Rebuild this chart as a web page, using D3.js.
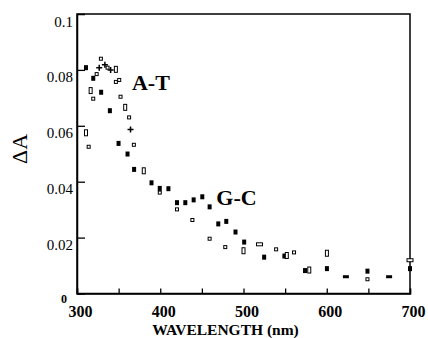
<!DOCTYPE html>
<html>
<head>
<meta charset="utf-8">
<script src="https://cdn.jsdelivr.net/npm/d3@7"></script>
<style>
  body { margin: 0; background: #fff; }
  svg text { font-family: "Liberation Serif", "Times New Roman", Times, "DejaVu Serif", serif !important; }
</style>
</head>
<body>
<div id="chart"></div>
<script>
// wavelength (nm), delta A
const filled = [[310.8, 0.0808], [319.5, 0.077], [329, 0.072], [339.5, 0.0654], [349.9, 0.0537],
  [360.7, 0.0499], [368.6, 0.0444], [389.5, 0.0396], [399.4, 0.0376], [409.8, 0.0375],
  [420.1, 0.0325], [430.1, 0.0325], [440.1, 0.0335], [450.5, 0.0346], [459.3, 0.031],
  [469.7, 0.0249], [479.3, 0.0258], [490.4, 0.022], [500.8, 0.0184], [524.8, 0.013],
  [549.1, 0.0134], [573.9, 0.0082], [600.2, 0.0089], [648.9, 0.008], [700, 0.0089]];
const filledWide = [[623, 0.006], [674.9, 0.006]];
const openSmall = [[328.7, 0.084], [336.7, 0.0808], [323.6, 0.0785], [350.7, 0.0764], [346.7, 0.0757],
  [319.5, 0.0697], [352.3, 0.0704], [362.6, 0.063], [314, 0.0525], [368.3, 0.0532],
  [399.4, 0.0361], [420.1, 0.0301], [438.6, 0.0263], [459.3, 0.0196], [478.1, 0.0166],
  [539.2, 0.0158], [560.7, 0.0147], [648.9, 0.0051]];
const openTall = [[346.7, 0.0802], [316.4, 0.0726], [357.9, 0.0666], [310.8, 0.0575], [380.2, 0.0439],
  [500, 0.0153], [552, 0.0136], [579, 0.0084], [600.2, 0.0144]];
const openWide = [[519.2, 0.0176], [700, 0.0119]];
const plus = [[326.7, 0.0808], [333.5, 0.0818], [340.4, 0.080], [364.3, 0.0587]];

const xTicks = [300, 350, 400, 450, 500, 550, 600, 650, 700];
const yTicks = [0, 0.02, 0.04, 0.06, 0.08, 0.1];
const labels = [{ text: "A-T", wl: 366, dA: 0.0728 }, { text: "G-C", wl: 467.3, dA: 0.0317 }];

const serif = "'Liberation Serif', 'Times New Roman', serif";
const W = 428, H = 338;
const margin = { top: 14, right: 18, bottom: 44.5, left: 77 };
const width = W - margin.left - margin.right;
const height = H - margin.top - margin.bottom;

const svg = d3.select("#chart").append("svg")
  .attr("width", W).attr("height", H)
  .attr("font-family", serif);
const g = svg.append("g").attr("transform", `translate(${margin.left},${margin.top})`);

const x = d3.scaleLinear().domain([300, 700]).range([0, width]);
const y = d3.scaleLinear().domain([0, 0.1]).range([height, 0]);

// frame
g.append("rect")
  .attr("width", width).attr("height", height)
  .attr("fill", "none").attr("stroke", "#000").attr("stroke-width", 1.5);

// x axis
const xAxis = g.append("g")
  .attr("transform", `translate(0,${height})`)
  .call(d3.axisBottom(x).tickValues(xTicks).tickSize(-5).tickPadding(12)
    .tickFormat(d => d % 100 === 0 ? d : ""))
  .attr("font-family", serif);
xAxis.select(".domain").attr("stroke-width", 1.5);
xAxis.selectAll(".tick line").attr("stroke-width", 1.3);
xAxis.selectAll("text")
  .attr("dx", 3)
  .attr("font-size", 16).attr("font-weight", "bold").attr("fill", "#000");

// y axis
const yAxis = g.append("g")
  .call(d3.axisLeft(y).tickValues(yTicks).tickSize(-8).tickPadding(4)
    .tickFormat(d => d === 0 ? "0" : d3.format("~g")(d)))
  .attr("font-family", serif);
yAxis.select(".domain").attr("stroke-width", 1.5);
yAxis.selectAll(".tick line").attr("stroke-width", 1.3)
  .filter(d => d === 0 || d === 0.1).remove();
yAxis.selectAll("text")
  .attr("dy", "0.8em")
  .attr("font-size", 15).attr("fill", "#000");
yAxis.selectAll("text").filter(d => d === 0)
  .attr("x", -10).attr("dy", "0.75em")
  .attr("font-size", 12).attr("font-weight", "bold");

// axis titles
svg.append("text")
  .attr("x", margin.left + width / 2 - 18)
  .attr("y", 335)
  .attr("text-anchor", "middle")
  .attr("font-size", 15.5).attr("font-weight", "bold")
  .text("WAVELENGTH (nm)");
svg.append("text")
  .attr("transform", "translate(27,149) rotate(-90)")
  .attr("text-anchor", "middle")
  .attr("font-size", 22)
  .text("\u0394A");

// markers
const pts = g.append("g");
pts.selectAll(".filled").data(filled).join("rect")
  .attr("x", d => x(d[0]) - 2).attr("y", d => y(d[1]) - 2.5)
  .attr("width", 4).attr("height", 5).attr("fill", "#000");
pts.selectAll(".fwide").data(filledWide).join("rect")
  .attr("x", d => x(d[0]) - 3).attr("y", d => y(d[1]) - 1.5)
  .attr("width", 6).attr("height", 3).attr("fill", "#000");
pts.selectAll(".osmall").data(openSmall).join("rect")
  .attr("x", d => x(d[0]) - 1.5).attr("y", d => y(d[1]) - 1.5)
  .attr("width", 3).attr("height", 3)
  .attr("fill", "#fff").attr("stroke", "#000").attr("stroke-width", 1);
pts.selectAll(".otall").data(openTall).join("rect")
  .attr("x", d => x(d[0]) - 1.5).attr("y", d => y(d[1]) - 3)
  .attr("width", 3).attr("height", 6)
  .attr("fill", "#fff").attr("stroke", "#000").attr("stroke-width", 1);
pts.selectAll(".owide").data(openWide).join("rect")
  .attr("x", d => x(d[0]) - 3).attr("y", d => y(d[1]) - 1.5)
  .attr("width", 6).attr("height", 3)
  .attr("fill", "#fff").attr("stroke", "#000").attr("stroke-width", 1);
pts.selectAll(".plus").data(plus).join("path")
  .attr("d", d => `M${x(d[0]) - 3},${y(d[1])}h6M${x(d[0])},${y(d[1]) - 3}v6`)
  .attr("stroke", "#000").attr("stroke-width", 1.5);

// annotations
g.selectAll(".lbl").data(labels).join("text")
  .attr("x", d => x(d.wl)).attr("y", d => y(d.dA))
  .attr("font-size", 22).attr("font-weight", "bold")
  .text(d => d.text);
</script>
</body>
</html>
